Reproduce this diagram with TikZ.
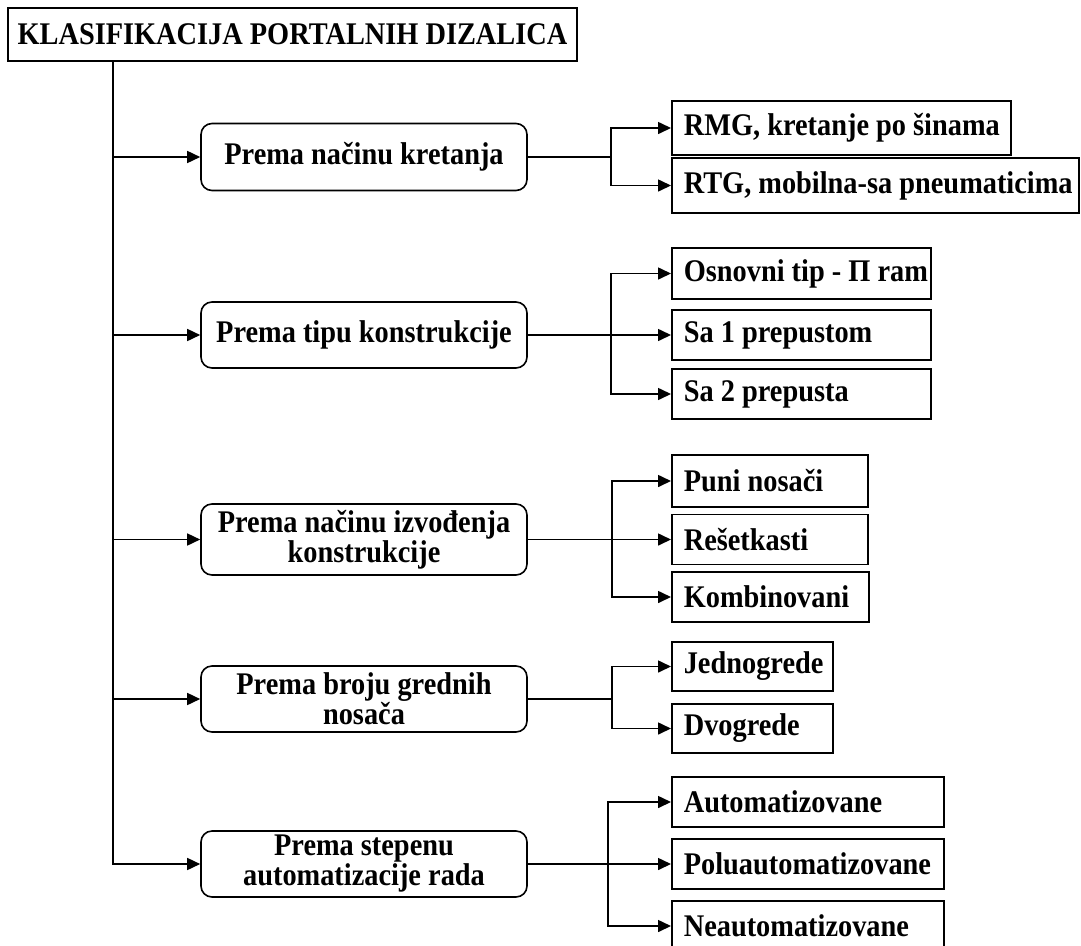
\documentclass[tikz,border=0pt]{standalone}
\usepackage{fontspec}
\setmainfont{Liberation Serif}[FakeStretch=0.9]
\usetikzlibrary{arrows.meta}
% one line of a criterion box, set with the font's own interword space
\newcommand\critline[1]{\mbox{\spaceskip=0pt\xspaceskip=0pt\relax #1}}
\begin{document}
\begin{tikzpicture}[x=1pt,y=-1pt,
  every node/.style={font=\fontsize{31.5}{30}\selectfont\bfseries},
  heading/.style={draw, line width=2.8pt, minimum width=569pt, minimum height=53pt, inner sep=0pt},
  group/.style={draw, line width=1.6pt, rounded corners=11pt, minimum width=326pt,
    text width=316pt, align=center, inner sep=0pt, minimum height=#1},
  leaf/.style={draw, line width=1.6pt, anchor=west, inner xsep=12pt, inner ysep=0pt,
    minimum height=#1},
  wire/.style={line width=1.6pt},
  arr/.style={wire, -{Triangle[length=13pt,width=12pt]}}]

\path[use as bounding box, clip] (0,0) rectangle (1081,945);

% root
\node[heading] (title) at (292.5,34.5) {KLASIFIKACIJA PORTALNIH DIZALICA};

% criteria
\node[group=67pt] (m1) at (364,157) {\critline{Prema načinu kretanja}};
\node[group=66pt] (m2) at (364,335) {\critline{Prema tipu konstrukcije}};
\node[group=71pt] (m3) at (364,539.5) {\critline{Prema načinu izvođenja}\\\critline{konstrukcije}};
\node[group=66pt] (m4) at (364,699) {\critline{Prema broju grednih}\\\critline{nosača}};
\node[group=66pt] (m5) at (364,864) {\critline{Prema stepenu}\\\critline{automatizacije rada}};

% types (box width = text box + 24pt)
\node[leaf=54pt] (c11) at (671,128) {\makebox[315pt][l]{RMG, kretanje po šinama}};
\node[leaf=55pt] (c12) at (671,185.5) {\makebox[383pt][l]{RTG, mobilna-sa pneumaticima}};

\node[leaf=51pt] (c21) at (671,273.5) {\makebox[235pt][l]{Osnovni tip - Π ram}};
\node[leaf=50pt] (c22) at (671,335) {\makebox[235pt][l]{Sa 1 prepustom}};
\node[leaf=50pt] (c23) at (671,394) {\makebox[235pt][l]{Sa 2 prepusta}};

\node[leaf=52pt] (c31) at (671,481) {\makebox[172pt][l]{Puni nosači}};
\node[leaf=50pt] (c32) at (671,539.5) {\makebox[172pt][l]{Rešetkasti}};
\node[leaf=50pt] (c33) at (671,597) {\makebox[173pt][l]{Kombinovani}};

\node[leaf=49pt] (c41) at (671,666.5) {\makebox[137pt][l]{Jednogrede}};
\node[leaf=49pt] (c42) at (671,728.5) {\makebox[137pt][l]{Dvogrede}};

\node[leaf=50pt] (c51) at (671,802) {\makebox[248pt][l]{Automatizovane}};
\node[leaf=50pt] (c52) at (671,864) {\makebox[248pt][l]{Poluautomatizovane}};
\node[leaf=50pt] (c53) at (671,926) {\makebox[248pt][l]{Neautomatizovane}};

% trunk
\coordinate (trunk) at (113,0);
\draw[arr] (trunk |- title.south) |- (m5.west);
\foreach \m in {m1,m2,m3,m4}
  \draw[arr] (trunk |- \m.west) -- (\m.west);

% branches
\coordinate (bx1) at (611,0);
\coordinate (bx2) at (611,0);
\coordinate (bx3) at (612,0);
\coordinate (bx4) at (612,0);
\coordinate (bx5) at (608,0);

\draw[wire] (m1.east) -- (m1.east -| bx1);
\draw[arr] (m1.east -| bx1) |- (c11.west);
\draw[arr] (m1.east -| bx1) |- (c12.west);

\draw[arr] (m2.east) -- (c22.west);
\draw[arr] (m2.east -| bx2) |- (c21.west);
\draw[arr] (m2.east -| bx2) |- (c23.west);

\draw[arr] (m3.east) -- (c32.west);
\draw[arr] (m3.east -| bx3) |- (c31.west);
\draw[arr] (m3.east -| bx3) |- (c33.west);

\draw[wire] (m4.east) -- (m4.east -| bx4);
\draw[arr] (m4.east -| bx4) |- (c41.west);
\draw[arr] (m4.east -| bx4) |- (c42.west);

\draw[arr] (m5.east) -- (c52.west);
\draw[arr] (m5.east -| bx5) |- (c51.west);
\draw[arr] (m5.east -| bx5) |- (c53.west);
\end{tikzpicture}
\end{document}
